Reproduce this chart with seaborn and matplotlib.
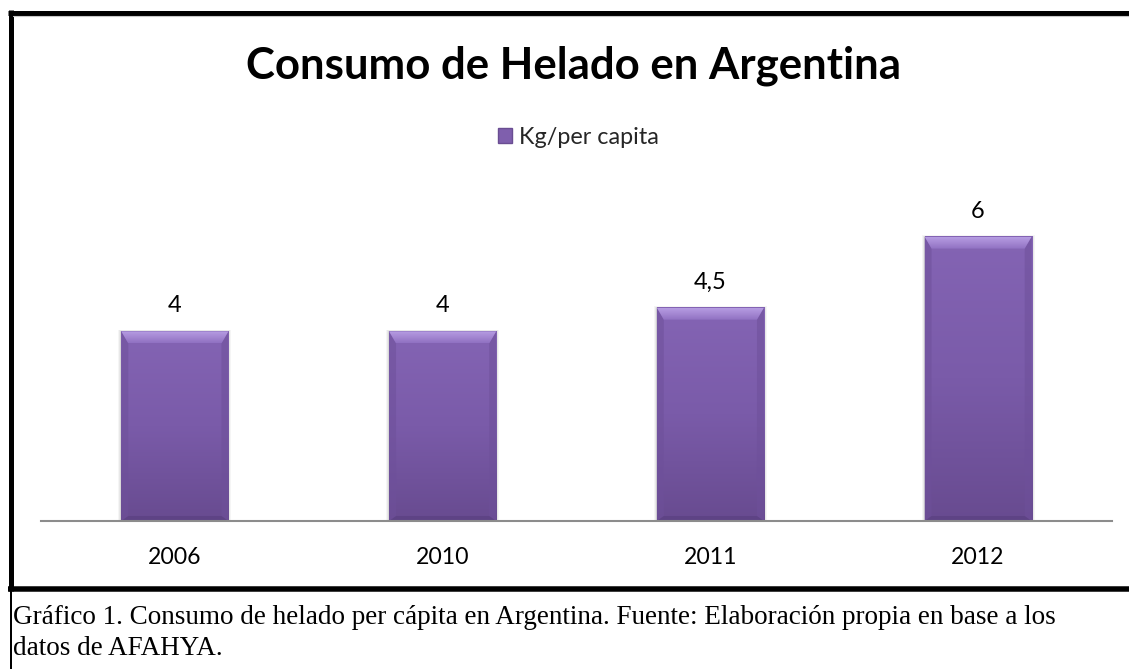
import numpy as np
import pandas as pd
import matplotlib
matplotlib.use("Agg")
import matplotlib.pyplot as plt
import seaborn as sns
from matplotlib.colors import LinearSegmentedColormap
from matplotlib.lines import Line2D
from matplotlib.patches import Patch

# --- data -------------------------------------------------------------
years = ["2006", "2010", "2011", "2012"]
kg_per_capita = [4, 4, 4.5, 6]
value_labels = ["4", "4", "4,5", "6"]
series_name = "Kg/per capita"
chart_title = "Consumo de Helado en Argentina"
caption_lines = [
    "Gráfico 1. Consumo de helado per cápita en Argentina. Fuente: Elaboración propia en base a los",
    "datos de AFAHYA.",
]

# --- style ------------------------------------------------------------
sns.set_theme(style="white")
plt.rcParams["font.family"] = ["Lato", "DejaVu Sans"]

W, H = 1129, 669
fig = plt.figure(figsize=(W / 100, H / 100), dpi=100)
fig.patch.set_facecolor("white")


def fx(px):
    return px / W


def fy(py):
    return 1 - py / H


# plot area: baseline at 521 px, 47.4 px per kg
ax_left, ax_right, ax_base, ax_top = 41, 1112, 521, 180
ax = fig.add_axes([fx(ax_left), fy(ax_base), (ax_right - ax_left) / W, (ax_base - ax_top) / H])

df = pd.DataFrame({"Año": years, "Kg": kg_per_capita})
sns.barplot(data=df, x="Año", y="Kg", color="#7F5FAD", width=0.4,
            saturation=1, edgecolor="none", ax=ax, zorder=2)

ymax = (ax_base - ax_top) / 47.4
ax.set_ylim(0, ymax)
ax.set_xlim(-0.5, len(years) - 0.5)

# bevel / gradient decoration on each bar
body_cmap = LinearSegmentedColormap.from_list("body", ["#684B90", "#7A5BA9", "#8464B4"])
top_cmap = LinearSegmentedColormap.from_list("topbev", ["#9071C2", "#A487D2", "#B59CE2"])
px_x = 1.0 / ((ax_right - ax_left) / len(years))   # data units per px (x)
px_y = 1.0 / 47.4                                     # data units per px (y)
dx, dy, dyb = 7 * px_x, 12 * px_y, 5 * px_y

for p in list(ax.patches):
    x0, w, h = p.get_x(), p.get_width(), p.get_height()
    x1 = x0 + w
    # soft shadow around the bar
    for k, a in [(3, 0.05), (2, 0.07), (1, 0.09)]:
        ax.fill([x0 - k * px_x, x1 + k * px_x, x1 + k * px_x, x0 - k * px_x],
                [0, 0, h + k * px_y * 0.5, h + k * px_y * 0.5],
                color="#404040", alpha=a, lw=0, zorder=1.9)
    grad = np.linspace(0, 1, 256).reshape(-1, 1)
    ax.imshow(grad, extent=[x0, x1, 0, h], origin="lower", cmap=body_cmap,
              aspect="auto", zorder=2.1, interpolation="bicubic")
    # top bevel
    tgrad = np.linspace(0, 1, 64).reshape(-1, 1)
    im = ax.imshow(tgrad, extent=[x0, x1, h - dy, h], origin="lower", cmap=top_cmap,
                   aspect="auto", zorder=2.3, interpolation="bicubic")
    tpoly = plt.Polygon([(x0, h), (x1, h), (x1 - dx, h - dy), (x0 + dx, h - dy)],
                        closed=True, transform=ax.transData)
    im.set_clip_path(tpoly)
    # side bevels
    ax.fill([x0, x0 + dx, x0 + dx, x0], [h, h - dy, dyb, 0], color="#6E509A", alpha=0.55,
            lw=0, zorder=2.2)
    ax.fill([x1, x1 - dx, x1 - dx, x1], [h, h - dy, dyb, 0], color="#6E509A", alpha=0.55,
            lw=0, zorder=2.2)
    # bottom bevel
    ax.fill([x0, x1, x1 - dx, x0 + dx], [0, 0, dyb, dyb], color="#5C4283", alpha=0.8,
            lw=0, zorder=2.2)

ax.set_ylim(0, ymax)
ax.set_xlim(-0.5, len(years) - 0.5)

# value labels
for p, lbl in zip(ax.patches, value_labels):
    ax.annotate(lbl, (p.get_x() + p.get_width() / 2, p.get_height()),
                xytext=(0, 13.7), textcoords="offset points",
                ha="center", va="baseline", fontsize=17, color="black")

ax.set_xlabel("")
ax.set_ylabel("")
ax.set_yticks([])
ax.tick_params(axis="x", length=0, pad=19, labelsize=16.6, labelcolor="black")
for s in ["left", "right", "top"]:
    ax.spines[s].set_visible(False)
ax.spines["bottom"].set_color("#8C8C8C")
ax.spines["bottom"].set_linewidth(1.5)
ax.spines["bottom"].set_zorder(3)
ax.set_facecolor("none")

# title and legend
fig.text(fx(573), fy(79), chart_title, ha="center", va="baseline",
         fontsize=31.5, fontweight="bold", color="black")
fig.legend(handles=[Patch(facecolor="#7F5FAD", edgecolor="#6A4D92")], labels=[series_name],
           loc="center", bbox_to_anchor=(fx(578), fy(137)), frameon=False,
           fontsize=16.8, handlelength=0.6, handleheight=0.6, handletextpad=0.3,
           borderaxespad=0)

# caption under the chart
for i, line in enumerate(caption_lines):
    fig.text(fx(13), fy(624 + 31 * i), line, ha="left", va="baseline",
             fontsize=19.5, family=["Liberation Serif", "DejaVu Serif"], color="black")

# chart frame and caption box border
lw_thick = 5 * 0.72
frame = [
    ([fx(8), fx(1129)], [fy(12.5), fy(12.5)], lw_thick),
    ([fx(10.8), fx(10.8)], [fy(10), fy(591)], lw_thick),
    ([fx(8), fx(1129)], [fy(588.5), fy(588.5)], 5.5 * 0.72),
    ([fx(11.3), fx(11.3)], [fy(591), fy(669)], 2 * 0.72),
]
for xs, ys, lw in frame:
    fig.add_artist(Line2D(xs, ys, color="black", lw=lw, solid_capstyle="butt",
                          transform=fig.transFigure))
fig.add_artist(Line2D([fx(13), fx(1129)], [fy(16), fy(16)], color="#C8C8C8", lw=0.8,
                      transform=fig.transFigure))

fig.savefig("out.png", dpi=100)
